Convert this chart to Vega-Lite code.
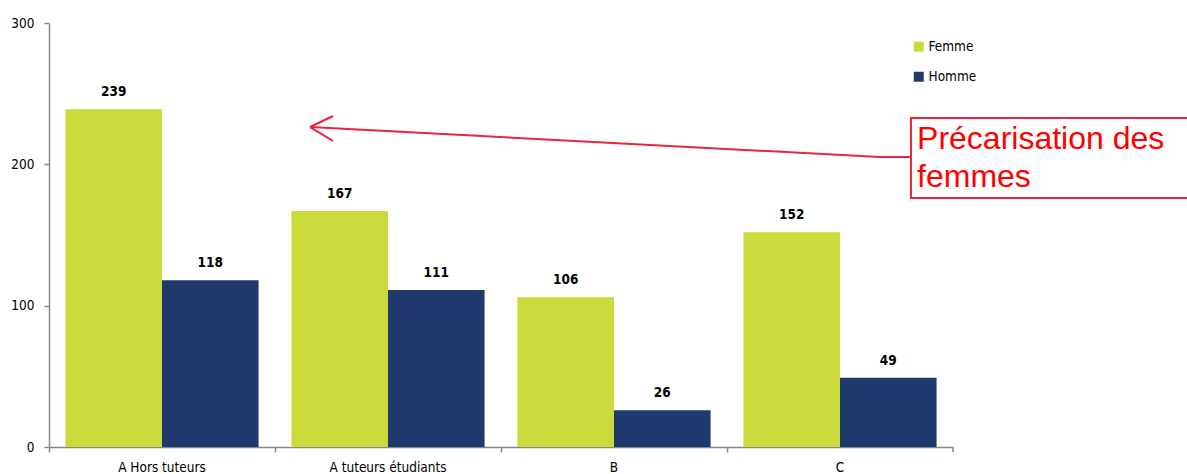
{
  "$schema": "https://vega.github.io/schema/vega-lite/v6.json",
  "width": 904,
  "height": 424,
  "autosize": {"type": "none"},
  "padding": {"left": 49, "top": 23, "right": 234, "bottom": 27},
  "background": "white",
  "config": {
    "view": {"stroke": null},
    "font": "DejaVu Sans Condensed",
    "axis": {
      "domainColor": "#888888",
      "tickColor": "#888888",
      "domainWidth": 1.5,
      "tickWidth": 1.5,
      "grid": false,
      "labelColor": "#000000",
      "labelFont": "DejaVu Sans Condensed",
      "labelFontSize": 13.5,
      "title": null
    }
  },
  "datasets": {
    "bars": [
      {"categorie": "A Hors tuteurs", "sexe": "Femme", "valeur": 239},
      {"categorie": "A Hors tuteurs", "sexe": "Homme", "valeur": 118},
      {"categorie": "A tuteurs étudiants", "sexe": "Femme", "valeur": 167},
      {"categorie": "A tuteurs étudiants", "sexe": "Homme", "valeur": 111},
      {"categorie": "B", "sexe": "Femme", "valeur": 106},
      {"categorie": "B", "sexe": "Homme", "valeur": 26},
      {"categorie": "C", "sexe": "Femme", "valeur": 152},
      {"categorie": "C", "sexe": "Homme", "valeur": 49}
    ],
    "segments": [
      {"x1": 1.155, "y1": 226.4, "x2": 3.677, "y2": 205.2},
      {"x1": 3.677, "y1": 205.2, "x2": 3.814, "y2": 205.2},
      {"x1": 1.155, "y1": 226.4, "x2": 1.257, "y2": 234.2},
      {"x1": 1.155, "y1": 226.4, "x2": 1.257, "y2": 216.5}
    ],
    "axisend": [
      {"x1": 4, "y1": 0, "x2": 4, "y2": -3.5}
    ],
    "box": [
      {"x1": 3.814, "x2": 5.3, "y1": 176.2, "y2": 232.8}
    ],
    "note": [
      {"x": 3.841, "y": 210.8, "texte": "Précarisation des"},
      {"x": 3.841, "y": 184.0, "texte": "femmes"}
    ]
  },
  "layer": [
    {
      "data": {"name": "bars"},
      "encoding": {
        "x": {
          "field": "categorie",
          "type": "nominal",
          "sort": null,
          "scale": {"paddingInner": 0, "paddingOuter": 0},
          "axis": {"labelAngle": 0, "bandPosition": 0, "tickSize": 5, "labelPadding": 8}
        },
        "xOffset": {
          "field": "sexe",
          "type": "nominal",
          "sort": ["Femme", "Homme"],
          "scale": {"paddingInner": 0, "paddingOuter": 0.17}
        },
        "y": {
          "field": "valeur",
          "type": "quantitative",
          "scale": {"domain": [0, 300], "nice": false},
          "axis": {"values": [0, 100, 200, 300], "tickSize": 5, "labelPadding": 10}
        }
      },
      "layer": [
        {
          "mark": {"type": "bar"},
          "encoding": {
            "color": {
              "field": "sexe",
              "type": "nominal",
              "scale": {"domain": ["Femme", "Homme"], "range": ["#c9da3a", "#1f396d"]},
              "legend": {
                "title": null,
                "orient": "none",
                "legendX": 863,
                "legendY": 17,
                "symbolType": "square",
                "symbolSize": 100,
                "symbolStrokeWidth": 0,
                "labelFontSize": 13.5,
                "labelFont": "DejaVu Sans Condensed",
                "labelColor": "#000000",
                "labelOffset": 3,
                "rowPadding": 15
              }
            }
          }
        },
        {
          "mark": {"type": "text", "dy": -13, "fontWeight": "bold", "fontSize": 13.5, "color": "#000000", "baseline": "alphabetic"},
          "encoding": {"text": {"field": "valeur", "type": "quantitative"}}
        }
      ]
    },
    {
      "layer": [
        {
          "data": {"name": "box"},
          "mark": {"type": "rect", "fill": "white", "fillOpacity": 0, "stroke": "#e8253f", "strokeWidth": 2},
          "encoding": {
            "x": {"field": "x1", "type": "quantitative", "scale": {"domain": [0, 4], "nice": false, "zero": false}, "axis": null},
            "x2": {"field": "x2"},
            "y": {"field": "y1", "type": "quantitative"},
            "y2": {"field": "y2"}
          }
        },
        {
          "data": {"name": "segments"},
          "mark": {"type": "rule", "color": "#e8253f", "strokeWidth": 2},
          "encoding": {
            "x": {"field": "x1", "type": "quantitative", "scale": {"domain": [0, 4], "nice": false, "zero": false}, "axis": null},
            "x2": {"field": "x2"},
            "y": {"field": "y1", "type": "quantitative"},
            "y2": {"field": "y2"}
          }
        },
        {
          "data": {"name": "axisend"},
          "mark": {"type": "rule", "color": "#888888", "strokeWidth": 1.5},
          "encoding": {
            "x": {"field": "x1", "type": "quantitative", "scale": {"domain": [0, 4], "nice": false, "zero": false}, "axis": null},
            "x2": {"field": "x2"},
            "y": {"field": "y1", "type": "quantitative"},
            "y2": {"field": "y2"}
          }
        },
        {
          "data": {"name": "note"},
          "mark": {"type": "text", "align": "left", "baseline": "alphabetic", "font": "Liberation Sans", "fontSize": 32, "color": "#ff0000"},
          "encoding": {
            "x": {"field": "x", "type": "quantitative", "scale": {"domain": [0, 4], "nice": false, "zero": false}, "axis": null},
            "y": {"field": "y", "type": "quantitative"},
            "text": {"field": "texte", "type": "nominal"}
          }
        }
      ]
    }
  ],
  "resolve": {"scale": {"x": "independent"}}
}
